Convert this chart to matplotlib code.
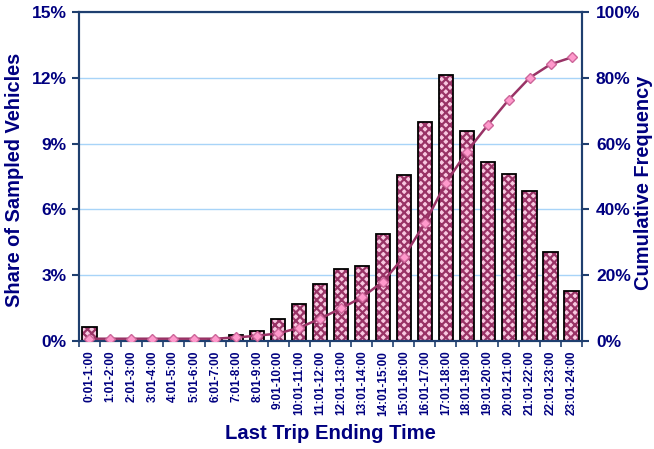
import numpy as np
import matplotlib.pyplot as plt
from matplotlib.ticker import FuncFormatter

plt.rcParams['font.family'] = 'Liberation Sans'
plt.rcParams['font.weight'] = 'bold'
plt.rcParams['axes.labelweight'] = 'bold'
plt.rcParams['hatch.linewidth'] = 1.6

# time periods
periods = ['0:01-1:00', '1:01-2:00', '2:01-3:00', '3:01-4:00', '4:01-5:00',
           '5:01-6:00', '6:01-7:00', '7:01-8:00', '8:01-9:00', '9:01-10:00',
           '10:01-11:00', '11:01-12:00', '12:01-13:00', '13:01-14:00',
           '14:01-15:00', '15:01-16:00', '16:01-17:00', '17:01-18:00',
           '18:01-19:00', '19:01-20:00', '20:01-21:00', '21:01-22:00',
           '22:01-23:00', '23:01-24:00']

# share of sampled vehicles (%)
share = [0.66, 0.0, 0.0, 0.0, 0.0, 0.0, 0.05, 0.26, 0.47, 0.99,
         1.69, 2.58, 3.28, 3.42, 4.86, 7.58, 9.97, 12.14,
         9.58, 8.16, 7.62, 6.85, 4.04, 2.27]

# cumulative frequency (%)
cumfreq = [0.7, 0.7, 0.7, 0.7, 0.7, 0.7, 0.7, 1.1, 1.6, 2.3,
           4.0, 6.8, 9.9, 13.3, 18.0, 25.6, 35.8, 48.0,
           57.5, 65.6, 73.3, 80.0, 84.1, 86.2]

navy = '#000080'
spine = '#1F3F6F'

fig = plt.figure(figsize=(6.54, 4.49), dpi=100)
ax = fig.add_axes([0.1208, 0.2405, 0.7691, 0.7328])
x = np.arange(len(periods))

ax.bar(x, share, width=0.68, color='#F8C8E0', edgecolor='#993366',
       hatch='xxxx', linewidth=0, zorder=2)
ax.bar(x, share, width=0.68, color='none', edgecolor='black',
       linewidth=1.3, zorder=3)

ax.set_ylim(0, 15)
ax.set_yticks([0, 3, 6, 9, 12, 15])
ax.yaxis.set_major_formatter(FuncFormatter(lambda v, p: '%d%%' % v))
ax.grid(axis='y', color='#A8D4F8', linewidth=1, zorder=0)
ax.set_xlim(-0.5, len(periods) - 0.5)
ax.set_xticks(x)
ax.set_xticklabels(periods, rotation=90, fontsize=8.5, color=navy,
                   fontweight='bold')
ax.tick_params(axis='x', length=0, pad=7)
ax.set_xticks(np.arange(-0.5, len(periods)), minor=True)
ax.tick_params(axis='x', which='minor', length=4, color=spine, width=1.2)
ax.tick_params(axis='y', labelsize=12.5, labelcolor=navy, color=spine,
               length=5, width=1.5, pad=4)
for s in ax.spines.values():
    s.set_color(spine)
    s.set_linewidth(1.5)

ax.set_ylabel('Share of Sampled Vehicles', fontsize=14.4, color=navy,
              fontweight='bold')
ax.yaxis.set_label_coords(-0.109, 0.49)
ax.set_xlabel('Last Trip Ending Time', fontsize=14.6, color=navy,
              fontweight='bold', labelpad=6)

ax2 = ax.twinx()
ax2.plot(x, cumfreq, color='#993366', linewidth=1.8, marker='D',
         markersize=5, markerfacecolor='#FF99CC', markeredgecolor='#CC6699',
         zorder=4)
ax2.set_ylim(0, 100)
ax2.set_yticks([0, 20, 40, 60, 80, 100])
ax2.yaxis.set_major_formatter(FuncFormatter(lambda v, p: '%d%%' % v))
ax2.tick_params(axis='y', labelsize=12.5, labelcolor=navy, color=spine,
                length=5, width=1.5, pad=5)
for s in ax2.spines.values():
    s.set_color(spine)
    s.set_linewidth(1.5)
ax2.set_ylabel('Cumulative Frequency', fontsize=14.4, color=navy,
               fontweight='bold')
ax2.yaxis.set_label_coords(1.103, 0.48)

fig.savefig('out.png', dpi=100)
